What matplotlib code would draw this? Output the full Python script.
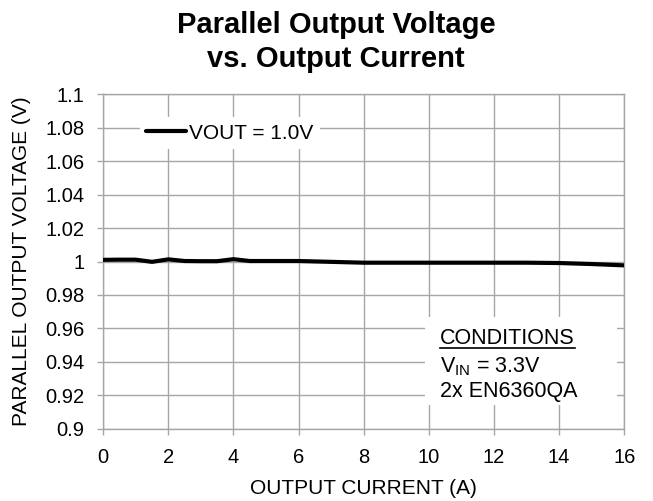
import matplotlib
matplotlib.use('Agg')
import matplotlib.pyplot as plt
from matplotlib.patches import Rectangle

plt.rcParams['font.family'] = ['Liberation Sans', 'DejaVu Sans']
plt.rcParams['mathtext.fontset'] = 'custom'
plt.rcParams['mathtext.rm'] = 'Liberation Sans'

# data
current = [0, 0.5, 1, 1.5, 2, 2.5, 3, 3.5, 4, 4.5, 5, 6, 7, 8, 9, 10, 11, 12, 13, 14, 15, 16]
vout = [1.0010, 1.0011, 1.0011, 0.9998, 1.0013, 1.0003, 1.0002, 1.0002, 1.0014, 1.0003,
        1.0003, 1.0003, 0.9998, 0.9993, 0.9993, 0.9993, 0.9993, 0.9993, 0.9993, 0.9991,
        0.9985, 0.9977]

x_ticks = [0, 2, 4, 6, 8, 10, 12, 14, 16]
y_ticks = [0.9, 0.92, 0.94, 0.96, 0.98, 1.0, 1.02, 1.04, 1.06, 1.08, 1.1]
y_labels = ['0.9', '0.92', '0.94', '0.96', '0.98', '1', '1.02', '1.04', '1.06', '1.08', '1.1']

grey = '#a6a6a6'

fig = plt.figure(figsize=(6.53, 5.01), dpi=100)
ax = fig.add_axes([0.158, 0.144, 0.798, 0.668])

ax.plot(current, vout, color='black', linewidth=3, label='VOUT = 1.0V', zorder=4,
        solid_capstyle='round')

ax.set_xlim(0, 16)
ax.set_ylim(0.9, 1.1)
ax.set_xticks(x_ticks)
ax.set_yticks(y_ticks)
ax.set_yticklabels(y_labels)
ax.tick_params(axis='both', labelsize=14.5, color=grey, length=4.5, width=1, pad=9)
ax.grid(True, color=grey, linewidth=1)
ax.set_axisbelow(True)
for s in ax.spines.values():
    s.set_color(grey)
    s.set_linewidth(1)
    s.set_zorder(0.5)

ax.set_xlabel('OUTPUT CURRENT (A)', fontsize=15, labelpad=9)
ax.set_ylabel('PARALLEL OUTPUT VOLTAGE (V)', fontsize=15, labelpad=10)

fig.text(0.515, 0.978, 'Parallel Output Voltage\nvs. Output Current', ha='center', va='top',
         fontsize=21, fontweight='bold', linespacing=1.25)

leg = ax.legend(loc='upper left', bbox_to_anchor=(0.071, 0.931), fontsize=15, frameon=True,
                fancybox=False, borderaxespad=0, borderpad=0.3, handlelength=1.9,
                handletextpad=0.15)
leg.get_frame().set_facecolor('white')
leg.get_frame().set_edgecolor('none')
leg.get_frame().set_alpha(1)

# white box behind the conditions note
ax.add_patch(Rectangle((0.618, 0.072), 0.369, 0.262, transform=ax.transAxes,
                       facecolor='white', edgecolor='none', zorder=1))
t1 = ax.text(0.647, 0.254, 'CONDITIONS', transform=ax.transAxes, fontsize=15.5, zorder=5)
ax.text(0.647, 0.170, r'V$_{\mathregular{IN}}$ = 3.3V', transform=ax.transAxes,
        fontsize=15.5, zorder=5)
ax.text(0.647, 0.0955, '2x EN6360QA', transform=ax.transAxes, fontsize=15.5, zorder=5)

# underline CONDITIONS
fig.canvas.draw()
bb = t1.get_window_extent().transformed(ax.transAxes.inverted())
ax.plot([bb.x0, bb.x1], [0.241, 0.241], transform=ax.transAxes, color='black',
        linewidth=1.2, zorder=5)

fig.savefig('out.png', dpi=100)
